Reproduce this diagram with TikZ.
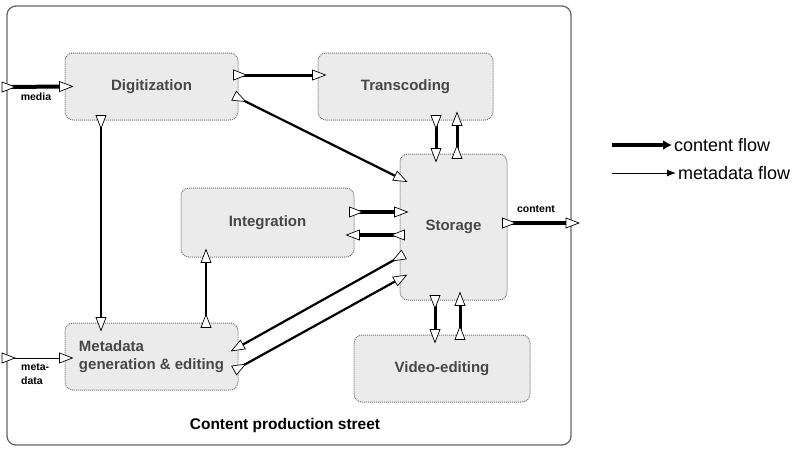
\documentclass[tikz,border=0pt]{standalone}
\usepackage{fontspec}
\setmainfont{Liberation Sans}
\usetikzlibrary{calc,decorations.markings,arrows.meta}

\tikzset{
  porttri/.style={draw=black, fill=white, line width=0.7pt, line join=miter},
  flowlink/.style={draw=black, line width=#1,
    postaction={decorate, decoration={markings,
      mark=at position 0 with {\draw[porttri] (-5pt,-5pt) -- (8pt,0pt) -- (-5pt,5pt) -- cycle;},
      mark=at position 1 with {\draw[porttri] (-5pt,-5pt) -- (8pt,0pt) -- (-5pt,5pt) -- cycle;}}}},
  flowlink/.default=3pt,
  stagebox/.style={draw=black!55, densely dotted, line width=1pt, fill=black!8,
    rounded corners=8pt, text=black!72,
    font=\fontsize{15}{18}\selectfont\bfseries, inner sep=0pt},
  smalllabel/.style={font=\fontsize{10.5}{14}\selectfont\bfseries, inner sep=0pt},
  legendtext/.style={font=\fontsize{18}{21}\selectfont, inner sep=2pt, anchor=west}
}

\begin{document}
\begin{tikzpicture}[x=1pt, y=-1pt]
  \useasboundingbox (0,0) rectangle (793,448);

  % production street frame
  \draw[black!60, line width=1.3pt, rounded corners=9pt] (7,6) rectangle (571,445);
  \node[font=\fontsize{15.5}{18}\selectfont\bfseries] (street) at (285,425) {Content production street};

  % stages
  \node[stagebox, minimum width=173pt, minimum height=67pt] (dig) at (151.5,86.5) {Digitization};
  \node[stagebox, minimum width=175pt, minimum height=67pt] (trans) at (405.5,86.5) {Transcoding};
  \node[stagebox, minimum width=107pt, minimum height=146pt] (stor) at (453.5,227) {Storage};
  \node[stagebox, minimum width=173pt, minimum height=69pt] (integ) at (267.5,222.5) {Integration};
  \node[stagebox, align=left, minimum width=173pt, minimum height=67pt] (meta) at (151.5,356.5) {Metadata\\generation \& editing};
  \node[stagebox, minimum width=176pt, minimum height=67pt] (video) at (442,368.5) {Video-editing};

  % inputs and output of the street
  \coordinate (mediain) at (7,87);
  \coordinate (metain) at (7,358);
  \coordinate (contentout) at (571,223);
  \node[smalllabel] (medialbl) at (36,97) {media};
  \node[smalllabel, align=left, anchor=west] (metalbl) at (21,374) {meta-\\data};
  \node[smalllabel] (contentlbl) at (536,209) {content};

  \draw[flowlink=4pt] (mediain) -- (dig.west);
  \draw[flowlink=1pt] (metain) -- ($(meta.west)+(0,1.5)$);
  \draw[flowlink=4pt] ($(stor.east)+(0,-4)$) -- (contentout);

  % flows between the stages
  \draw[flowlink=3pt] ($(dig.east)+(0,-11.5)$) -- ($(trans.west)+(0,-11.5)$);
  \draw[flowlink=2.2pt] ($(dig.east)+(0,11.5)$) -- ($(stor.west)+(0,-49)$);
  \draw[flowlink=3pt] ($(trans.south)+(30.5,0)$) -- ($(stor.north)+(-17.5,0)$);
  \draw[flowlink=3pt] ($(stor.north)+(3.5,0)$) -- ($(trans.south)+(51.5,0)$);
  \draw[flowlink=3.2pt] ($(integ.east)+(0,-10.5)$) -- ($(stor.west)+(0,-15)$);
  \draw[flowlink=3.2pt] ($(stor.west)+(0,8)$) -- ($(integ.east)+(0,12.5)$);
  \draw[flowlink=2.2pt] ($(stor.west)+(0,30)$) -- ($(meta.east)+(0,-9.5)$);
  \draw[flowlink=2.2pt] ($(meta.east)+(0,11.5)$) -- ($(stor.west)+(0,52)$);
  \draw[flowlink=2.2pt] ($(dig.south)+(-50.5,0)$) -- ($(meta.north)+(-50.5,0)$);
  \draw[flowlink=2pt] ($(meta.north)+(54.5,0)$) -- ($(integ.south)+(-61.5,0)$);
  \draw[flowlink=3pt] ($(stor.south)+(-18.5,0)$) -- ($(video.north)+(-7,0)$);
  \draw[flowlink=3pt] ($(video.north)+(18,0)$) -- ($(stor.south)+(6.5,0)$);

  % legend
  \node[legendtext] (lgcontent) at (672,145) {content flow};
  \node[legendtext] (lgmeta) at (676,173) {metadata flow};
  \coordinate (lgcstart) at (612,145);
  \coordinate (lgmstart) at (612,173);
  \draw[line width=3.5pt, -{Latex[length=9pt,width=10pt]}] (lgcstart) -- (lgcontent.west);
  \draw[line width=1pt, -{Latex[length=9pt,width=7pt]}] (lgmstart) -- (lgmeta.west);
\end{tikzpicture}
\end{document}
